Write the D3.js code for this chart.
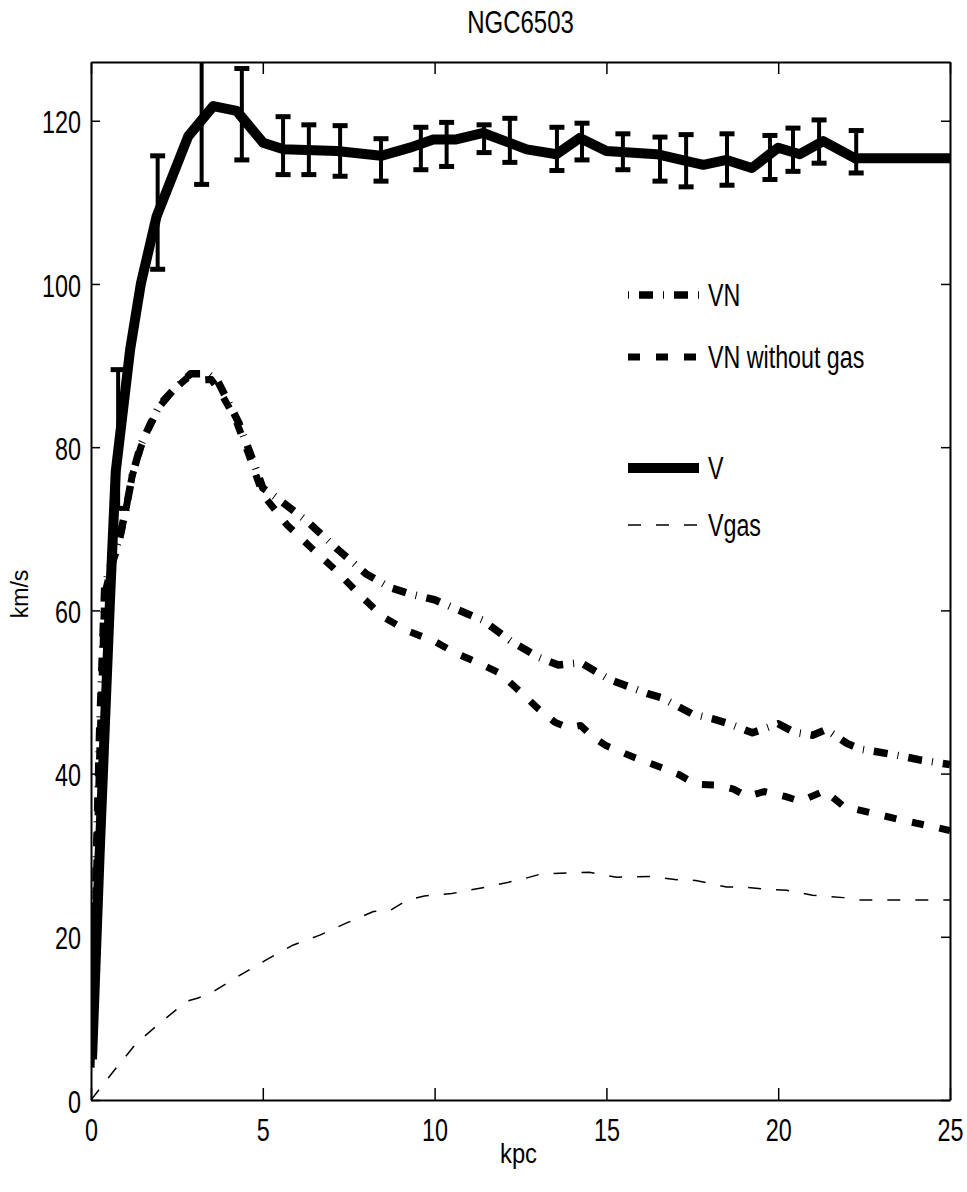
<!DOCTYPE html>
<html>
<head>
<meta charset="utf-8">
<script src="https://cdn.jsdelivr.net/npm/d3@7"></script>
<style>
    body { margin: 0; background: #fff; }
    text { font-family: "Liberation Sans", Arial, sans-serif; fill: #000; }
</style>
</head>
<body>
<svg id="chart" width="967" height="1192"></svg>
<script>
// tick values
var xTicks = [0, 5, 10, 15, 20, 25];
var yTicks = [0, 20, 40, 60, 80, 100, 120];

// V (observed curve)
var vX = [0.03, 0.25, 0.55, 0.72, 1.14, 1.45, 1.91, 2.83, 3.56, 4.24, 5.01, 5.6, 7.15, 8.44, 9.28, 9.96, 10.6,
          11.42, 12.68, 13.55, 14.23, 15.0, 16.46, 17.82, 18.5, 19.23, 20.0, 20.63, 21.31, 22.24, 25];
var vY = [5, 30, 61, 77, 92, 100, 108.3, 118.1, 121.8, 121.2, 117.3, 116.5, 116.3, 115.7, 116.7, 117.7, 117.7,
          118.5, 116.5, 115.9, 117.9, 116.3, 115.9, 114.6, 115.2, 114.2, 116.7, 115.9, 117.5, 115.4, 115.4];

// error bars on V
var ebX  = [0.79, 1.94, 3.22, 4.39, 5.59, 6.34, 7.25, 8.44, 9.60, 10.35, 11.44, 12.19, 13.56, 14.29, 15.48,
            16.56, 17.32, 18.51, 19.76, 20.43, 21.19, 22.27];
var ebLo = [72.5, 101.8, 112.2, 115.2, 113.4, 113.4, 113.2, 112.6, 114.0, 114.4, 116.1, 114.9, 113.9, 115.2, 114.0,
            112.6, 111.9, 112.1, 112.8, 113.8, 114.8, 113.6];
var ebHi = [89.5, 115.7, 128.8, 126.4, 120.5, 119.5, 119.4, 117.8, 119.2, 119.8, 119.5, 120.3, 119.2, 119.7, 118.4,
            118.0, 118.3, 118.4, 118.2, 119.1, 120.1, 118.8];

// VN
var vnX = [0, 0.1, 0.25, 0.4, 0.6, 0.8, 1.0, 1.2, 1.45, 1.7, 2.0, 2.4, 2.9, 3.4, 3.7, 4.0, 4.3, 4.7, 5.0, 5.4,
           6.3, 7.2, 8.0, 8.7, 9.3, 10.0, 10.6, 11.4, 12.2, 13.0, 13.6, 14.25, 15.1, 16.2, 16.6, 17.5, 18.1,
           18.5, 19.25, 20.0, 20.45, 21.0, 21.4, 22.0, 22.4, 23.4, 24.1, 25];
var vnY = [4, 20, 45, 63, 66, 68.5, 72, 76.5, 80.3, 82.6, 85.2, 87.0, 89.0, 89.0, 88.0, 85.5, 83, 78.5, 75, 73.8,
           70.9, 67.4, 64.5, 62.8, 62.0, 61.3, 60.2, 58.8, 56.3, 54.3, 53.3, 53.6, 51.5, 49.8, 49.3, 47.3, 46.7,
           46.2, 45.0, 46.1, 45.1, 44.7, 45.4, 43.7, 43.0, 42.3, 41.7, 41.1];

// VN without gas
var vnngX = [0, 0.1, 0.25, 0.4, 0.6, 0.8, 1.0, 1.2, 1.45, 1.7, 2.0, 2.4, 2.8, 3.1, 3.5, 3.8, 4.2, 4.6, 5.0, 5.7,
             6.4, 7.1, 7.8, 8.5, 9.2, 10.0, 10.6, 11.3, 11.9, 12.5, 13.0, 13.5, 13.9, 14.25, 14.6, 15.0, 15.8,
             16.5, 17.1, 17.6, 18.2, 18.7, 19.1, 19.6, 20.2, 20.65, 21.35, 21.9, 22.8, 23.6, 24.6, 25];
var vnngY = [4, 18, 42, 62, 65.5, 68, 72, 76.5, 80, 82.5, 85, 87, 88.5, 88.2, 88.3, 86.5, 83.5, 79, 74.2, 70.5,
             67.7, 65.0, 62, 59.2, 57.5, 56.2, 54.8, 53.5, 52.3, 50.0, 48.0, 46.3, 45.6, 45.9, 44.5, 43.4, 42.0,
             40.9, 39.9, 38.7, 38.6, 38.1, 37.2, 37.8, 37.2, 36.6, 37.9, 36.0, 35.1, 34.3, 33.4, 33.0];

// Vgas
var vgasX = [0, 0.65, 1.33, 2.0, 2.78, 3.12, 3.56, 4.34, 5.11, 5.89, 6.66, 7.44, 8.22, 8.7, 9.2, 9.7, 10.5,
             11.5, 12.5, 13.1, 13.65, 14.5, 15.3, 16.3, 17.05, 17.6, 18.5, 19.0, 19.7, 20.25, 21.0, 21.9, 22.4, 25];
var vgasY = [0, 3.5, 7.0, 9.4, 12.1, 12.5, 13.3, 15.3, 17.2, 19.0, 20.2, 21.7, 23.1, 23.2, 24.5, 25.0, 25.3,
             26.1, 27.0, 27.7, 27.8, 27.9, 27.3, 27.4, 27.0, 26.9, 26.1, 26.1, 25.8, 25.7, 25.1, 24.8, 24.5, 24.5];

var legendLabels = ['VN', 'VN without gas', 'V', 'Vgas'];

(function () {
    var svg = d3.select('#chart');
    var left = 91, right = 950, top = 62, bottom = 1100;
    var narrow = 0.73;

    var x = d3.scaleLinear().domain([0, 25]).range([left, right]);
    var y = d3.scaleLinear().domain([0, 127.2]).range([bottom, top]);

    svg.append('clipPath').attr('id', 'plotclip')
        .append('rect')
        .attr('x', left).attr('y', top)
        .attr('width', right - left).attr('height', bottom - top);

    var series = [
        { xs: vnX, ys: vnY, width: 7.5, dash: '1 10 14 10' },
        { xs: vnngX, ys: vnngY, width: 7, dash: '12 16' },
        { xs: vX, ys: vY, width: 10, dash: null },
        { xs: vgasX, ys: vgasY, width: 1.5, dash: '13 15' }
    ];

    var line = d3.line()
        .x(function (d) { return x(d[0]); })
        .y(function (d) { return y(d[1]); });

    var plot = svg.append('g').attr('clip-path', 'url(#plotclip)');

    series.forEach(function (s) {
        var pts = s.xs.map(function (v, i) { return [v, s.ys[i]]; });
        plot.append('path')
            .attr('d', line(pts))
            .attr('fill', 'none')
            .attr('stroke', '#000')
            .attr('stroke-width', s.width)
            .attr('stroke-linejoin', 'round')
            .attr('stroke-dasharray', s.dash);
    });

    // error bars
    var eb = plot.selectAll('g.eb')
        .data(ebX.map(function (v, i) { return { x: v, lo: ebLo[i], hi: ebHi[i] }; }))
        .enter().append('g').attr('class', 'eb');
    eb.append('line')
        .attr('x1', function (d) { return x(d.x); })
        .attr('x2', function (d) { return x(d.x); })
        .attr('y1', function (d) { return y(d.lo); })
        .attr('y2', function (d) { return y(d.hi); })
        .attr('stroke', '#000').attr('stroke-width', 4);
    ['lo', 'hi'].forEach(function (k) {
        eb.append('line')
            .attr('x1', function (d) { return x(d.x) - 7.5; })
            .attr('x2', function (d) { return x(d.x) + 7.5; })
            .attr('y1', function (d) { return y(d[k]); })
            .attr('y2', function (d) { return y(d[k]); })
            .attr('stroke', '#000').attr('stroke-width', 5);
    });

    // axes
    var gx = svg.append('g').attr('transform', 'translate(0,' + bottom + ')')
        .call(d3.axisBottom(x).tickValues(xTicks).tickSizeInner(-12).tickSizeOuter(0).tickPadding(18));
    var gy = svg.append('g').attr('transform', 'translate(' + left + ',0)')
        .call(d3.axisLeft(y).tickValues(yTicks).tickSizeInner(-9).tickSizeOuter(0).tickPadding(10));
    var gt = svg.append('g').attr('transform', 'translate(0,' + top + ')')
        .call(d3.axisTop(x).tickValues(xTicks).tickSizeInner(-12).tickSizeOuter(0).tickFormat(''));
    var gr = svg.append('g').attr('transform', 'translate(' + right + ',0)')
        .call(d3.axisRight(y).tickValues(yTicks).tickSizeInner(-9).tickSizeOuter(0).tickFormat(''));

    [gx, gy, gt, gr].forEach(function (g) {
        g.select('.domain').attr('stroke', '#000').attr('stroke-width', 2);
        g.selectAll('.tick line').attr('stroke', '#000').attr('stroke-width', 1.5);
    });

    gx.selectAll('text')
        .attr('font-size', 32)
        .attr('font-family', '"Liberation Sans", Arial, sans-serif')
        .attr('transform', 'scale(' + narrow + ',1)');
    gy.selectAll('text')
        .attr('font-size', 32)
        .attr('font-family', '"Liberation Sans", Arial, sans-serif')
        .attr('x', -10 / narrow)
        .attr('dy', '0.38em')
        .attr('transform', 'scale(' + narrow + ',1)');

    // title and axis labels
    svg.append('text')
        .attr('transform', 'translate(' + ((left + right) / 2) + ',33) scale(0.75,1)')
        .attr('text-anchor', 'middle')
        .attr('font-size', 32)
        .text('NGC6503');

    svg.append('text')
        .attr('transform', 'translate(' + ((left + right) / 2 - 2) + ',1163) scale(0.85,1)')
        .attr('text-anchor', 'middle')
        .attr('font-size', 28)
        .text('kpc');

    svg.append('text')
        .attr('transform', 'translate(28,594) rotate(-90)')
        .attr('text-anchor', 'middle')
        .attr('font-size', 23)
        .text('km/s');

    // legend
    var legendRows = [295, 357, 468, 525];
    var lg = svg.append('g');
    legendLabels.forEach(function (lab, i) {
        var s = series[i];
        var ly = legendRows[i];
        lg.append('line')
            .attr('x1', 628).attr('x2', 699)
            .attr('y1', ly).attr('y2', ly)
            .attr('stroke', '#000')
            .attr('stroke-width', s.width)
            .attr('stroke-dasharray', s.dash);
        lg.append('text')
            .attr('transform', 'translate(708,' + (ly + 11) + ') scale(0.75,1)')
            .attr('font-size', 31)
            .text(lab);
    });
})();
</script>
</body>
</html>
